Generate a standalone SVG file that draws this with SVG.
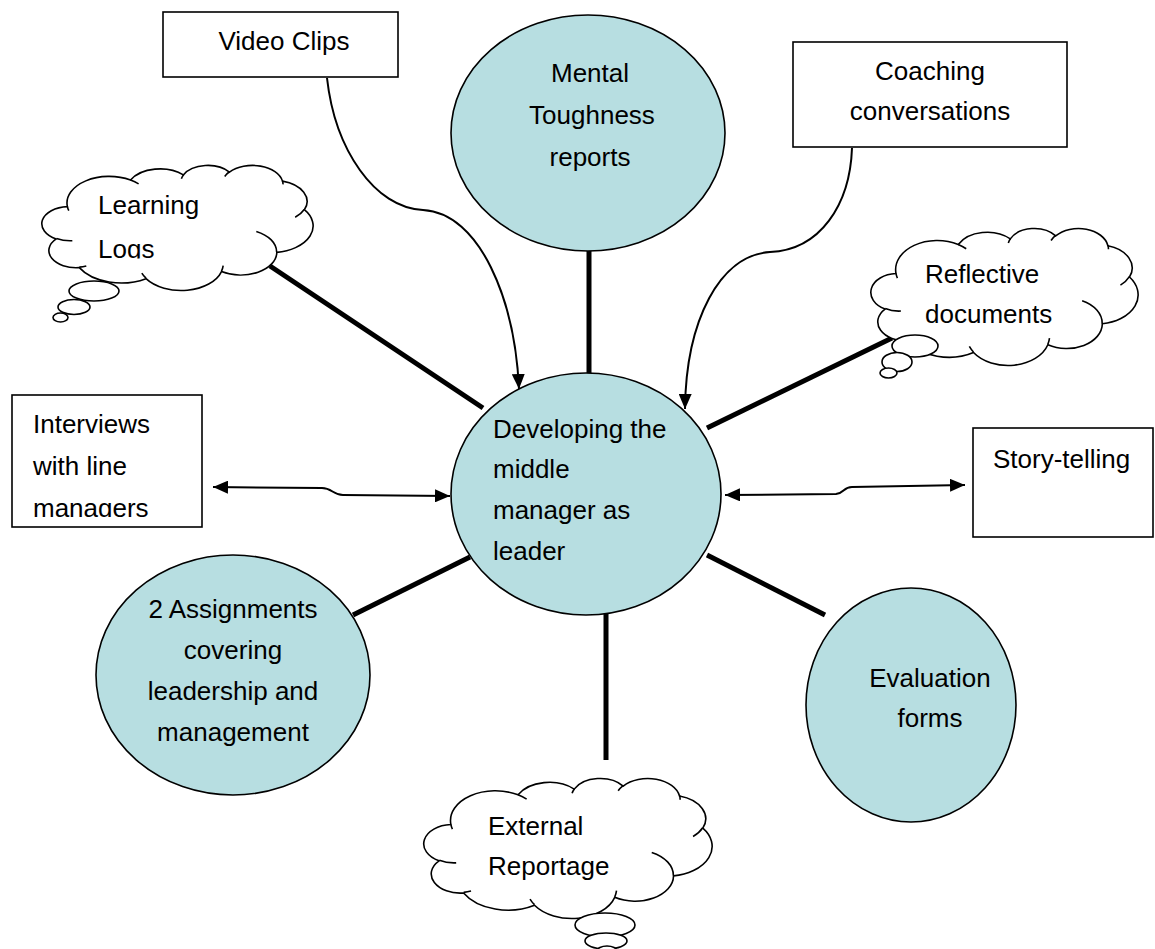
<svg xmlns="http://www.w3.org/2000/svg" xmlns:xlink="http://www.w3.org/1999/xlink" width="1155" height="949" viewBox="0 0 1155 949">
  <style>
    text { font-family: "Liberation Sans", Arial, sans-serif; font-size: 26px; fill: #000; }
    .mid { text-anchor: middle; }
    .bubble { fill: #B7DEE1; stroke: #000; stroke-width: 1.6; }
    .box { fill: #fff; stroke: #000; stroke-width: 1.6; }
    .cloud { fill: #fff; stroke: #000; stroke-width: 1.6; vector-effect: non-scaling-stroke; }
    .cloud-inner { fill: none; stroke: #000; stroke-width: 1.6; vector-effect: non-scaling-stroke; }
    .puff { fill: #fff; stroke: #000; stroke-width: 1.6; }
    .spoke { stroke: #000; stroke-width: 5; fill: none; }
    .flow { stroke: #000; stroke-width: 2; fill: none; }
  </style>
  <defs>
    <marker id="head" viewBox="0 0 15 13" refX="15" refY="6.5" markerWidth="15" markerHeight="13" markerUnits="userSpaceOnUse" orient="auto-start-reverse">
      <path d="M0,0 L15,6.5 L0,13 Z" fill="#000"/>
    </marker>
    <!-- cloud outline in a 432 x 432 frame -->
    <path id="cloudShape" class="cloud" d="M39.00,143.70 A67.53 91.90 0 0 1 140.07,52.04 A53.33 72.67 0 0 1 224.58,34.34 A43.65 59.45 0 0 1 298.33,24.79 A48.57 65.95 0 0 1 383.17,55.76 A53.33 72.73 0 0 1 418.18,154.60 A67.75 92.20 0 0 1 374.07,302.08 A57.85 78.67 0 0 1 285.59,368.19 A67.52 92.15 0 0 1 164.84,392.71 A77.20 105.43 0 0 1 58.07,354.77 A43.60 59.18 0 0 1 21.15,255.55 A43.45 59.45 0 0 1 39.00,143.70 Z"/>
    <path id="cloudCreases" class="cloud-inner" d="M46.93,261.77 A43.45 59.45 0 0 1 21.60,253.80 M69.28,348.99 A43.60 59.18 0 0 1 58.19,352.81 M164.78,390.90 A67.52 92.15 0 0 1 158.10,373.49 M288.27,347.51 A67.52 92.15 0 0 1 285.61,366.60 M341.29,229.54 A57.85 78.67 0 0 1 373.81,300.90 M417.98,153.54 A53.33 72.73 0 0 1 403.49,180.31 M383.24,54.26 A48.57 65.95 0 0 1 384.00,66.90 M290.78,39.52 A48.57 65.95 0 0 1 298.21,23.38 M221.41,47.20 A43.65 59.45 0 0 1 225.00,33.30 M140.00,51.92 A67.53 91.90 0 0 1 152.99,65.40 M41.27,157.89 A67.53 91.90 0 0 1 39.00,143.71"/>
    <clipPath id="clipLogs" clipPathUnits="userSpaceOnUse"><rect x="0" y="0" width="400" height="258.5"/></clipPath>
    <clipPath id="clipManagers" clipPathUnits="userSpaceOnUse"><rect x="0" y="380" width="220" height="137"/></clipPath>
  </defs>

  <rect width="1155" height="949" fill="#fff"/>

  <!-- connectors -->
  <g id="connectors">
    <line class="spoke" x1="270" y1="266" x2="483" y2="408"/>
    <line class="spoke" x1="589" y1="250" x2="589" y2="374"/>
    <line class="spoke" x1="707" y1="428" x2="892" y2="338"/>
    <line class="spoke" x1="353" y1="615" x2="470" y2="557"/>
    <line class="spoke" x1="707" y1="555" x2="825" y2="615"/>
    <line class="spoke" x1="606" y1="614" x2="606" y2="760"/>
    <path class="flow" d="M327,78 C335,150 375,208 423,210 C480,213 515,300 519,389" marker-end="url(#head)"/>
    <path class="flow" d="M852,148 C850,205 820,250 770,252 C720,255 686,320 685,409" marker-end="url(#head)"/>
    <path class="flow" d="M213,487 L322,488 C332,488 333,495 343,495 L450,496" marker-start="url(#head)" marker-end="url(#head)"/>
    <path class="flow" d="M725,495 L836,494 C845,493 843,487 852,487 L965,485" marker-start="url(#head)" marker-end="url(#head)"/>
  </g>

  <!-- central topic -->
  <g id="node-centre">
    <ellipse class="bubble" cx="586" cy="494" rx="135" ry="121"/>
    <text x="493" y="438">Developing the</text>
    <text x="493" y="478">middle</text>
    <text x="493" y="519">manager as</text>
    <text x="493" y="560">leader</text>
  </g>

  <g id="node-mental-toughness">
    <ellipse class="bubble" cx="588" cy="133" rx="137" ry="118"/>
    <text class="mid" x="590" y="82">Mental</text>
    <text class="mid" x="592" y="124">Toughness</text>
    <text class="mid" x="590" y="166">reports</text>
  </g>

  <g id="node-video-clips">
    <rect class="box" x="163" y="12" width="235" height="65"/>
    <text class="mid" x="284" y="50">Video Clips</text>
  </g>

  <g id="node-coaching">
    <rect class="box" x="793" y="42" width="274" height="105"/>
    <text class="mid" x="930" y="80">Coaching</text>
    <text class="mid" x="930" y="120">conversations</text>
  </g>

  <g id="node-learning-logs">
    <g transform="translate(43,165) scale(0.625,0.28935)">
      <use xlink:href="#cloudShape"/>
      <use xlink:href="#cloudCreases"/>
    </g>
    <ellipse class="puff" cx="94" cy="291" rx="25" ry="10"/>
    <ellipse class="puff" cx="74" cy="307" rx="16" ry="7.5"/>
    <ellipse class="puff" cx="60.5" cy="317.5" rx="7.5" ry="4.5"/>
    <text x="98" y="214">Learning</text>
    <text x="98" y="258" clip-path="url(#clipLogs)">Logs</text>
  </g>

  <g id="node-reflective">
    <g transform="translate(872,228) scale(0.61574,0.31713)">
      <use xlink:href="#cloudShape"/>
      <use xlink:href="#cloudCreases"/>
    </g>
    <ellipse class="puff" cx="915" cy="346" rx="23" ry="11"/>
    <ellipse class="puff" cx="897" cy="362" rx="15" ry="9.5"/>
    <ellipse class="puff" cx="888.5" cy="373" rx="8.5" ry="5"/>
    <text x="925" y="283">Reflective</text>
    <text x="925" y="323">documents</text>
  </g>

  <g id="node-interviews">
    <rect class="box" x="12" y="395" width="190" height="132"/>
    <text x="33" y="433">Interviews</text>
    <text x="33" y="475">with line</text>
    <text x="33" y="517" clip-path="url(#clipManagers)">managers</text>
  </g>

  <g id="node-story-telling">
    <rect class="box" x="973" y="428" width="180" height="109"/>
    <text x="993" y="468">Story-telling</text>
  </g>

  <g id="node-assignments">
    <ellipse class="bubble" cx="233" cy="675" rx="137" ry="120"/>
    <text class="mid" x="233" y="618">2 Assignments</text>
    <text class="mid" x="233" y="659">covering</text>
    <text class="mid" x="233" y="700">leadership and</text>
    <text class="mid" x="233" y="741">management</text>
  </g>

  <g id="node-evaluation">
    <ellipse class="bubble" cx="911" cy="705" rx="105" ry="117"/>
    <text class="mid" x="930" y="687">Evaluation</text>
    <text class="mid" x="930" y="727">forms</text>
  </g>

  <g id="node-external">
    <g transform="translate(425,778) scale(0.66435,0.32407)">
      <use xlink:href="#cloudShape"/>
      <use xlink:href="#cloudCreases"/>
    </g>
    <ellipse class="puff" cx="605" cy="925" rx="30" ry="12"/>
    <ellipse class="puff" cx="606" cy="941" rx="21" ry="8"/>
    <ellipse class="puff" cx="607" cy="951" rx="10" ry="5"/>
    <text x="488" y="835">External</text>
    <text x="488" y="875">Reportage</text>
  </g>
</svg>
